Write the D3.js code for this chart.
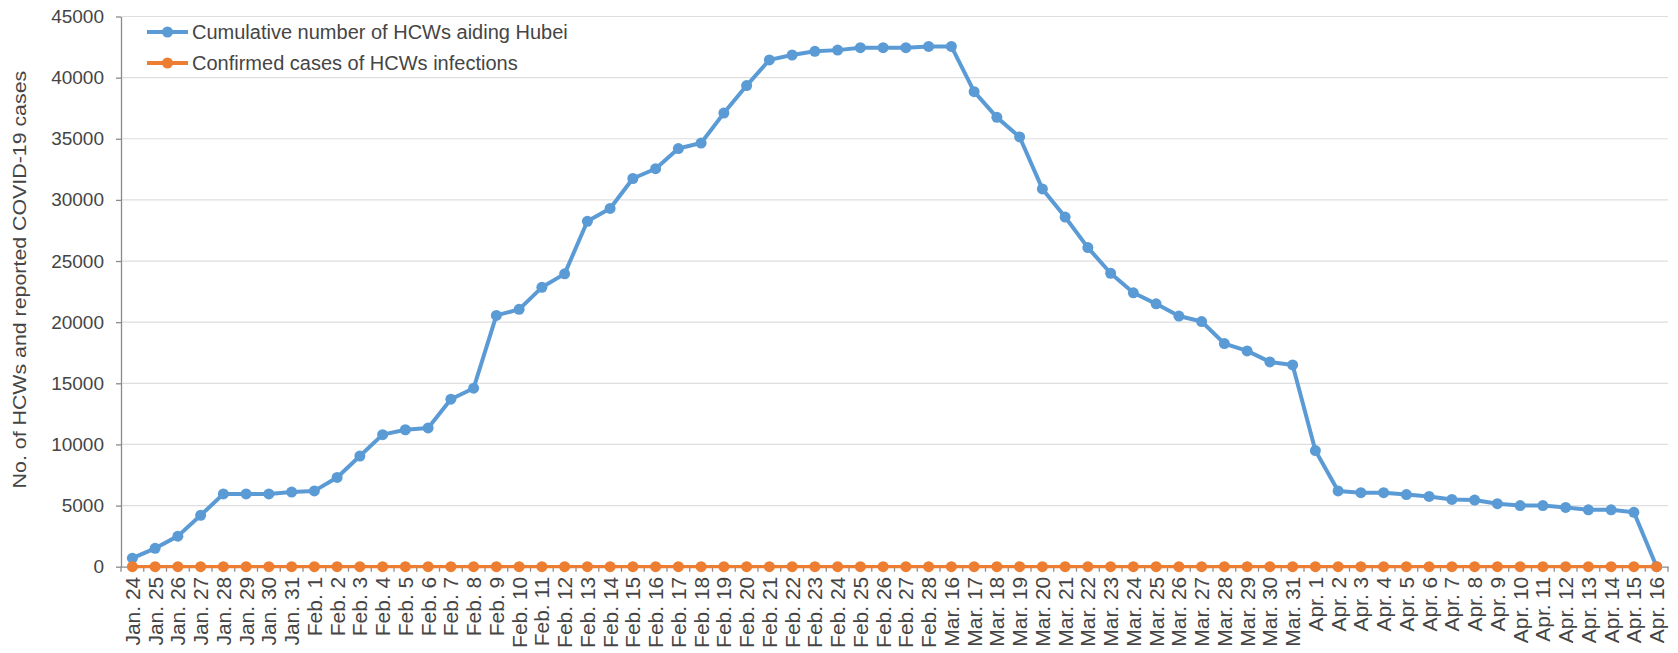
<!DOCTYPE html>
<html>
<head>
<meta charset="utf-8">
<script src="https://cdn.jsdelivr.net/npm/d3@7"></script>
<style>
  html, body { margin: 0; padding: 0; background: #fff; }
  svg { display: block; }
</style>
</head>
<body>
<div id="chart"></div>
<script>
// dates on the x axis (note the gap between Feb. 28 and Mar. 16)
const dates = [
  "Jan. 24","Jan. 25","Jan. 26","Jan. 27","Jan. 28","Jan. 29","Jan. 30","Jan. 31",
  "Feb. 1","Feb. 2","Feb. 3","Feb. 4","Feb. 5","Feb. 6","Feb. 7","Feb. 8","Feb. 9","Feb. 10",
  "Feb. 11","Feb. 12","Feb. 13","Feb. 14","Feb. 15","Feb. 16","Feb. 17","Feb. 18","Feb. 19","Feb. 20",
  "Feb. 21","Feb. 22","Feb. 23","Feb. 24","Feb. 25","Feb. 26","Feb. 27","Feb. 28",
  "Mar. 16","Mar. 17","Mar. 18","Mar. 19","Mar. 20","Mar. 21","Mar. 22","Mar. 23","Mar. 24",
  "Mar. 25","Mar. 26","Mar. 27","Mar. 28","Mar. 29","Mar. 30","Mar. 31",
  "Apr. 1","Apr. 2","Apr. 3","Apr. 4","Apr. 5","Apr. 6","Apr. 7","Apr. 8","Apr. 9","Apr. 10",
  "Apr. 11","Apr. 12","Apr. 13","Apr. 14","Apr. 15","Apr. 16"
];

// cumulative number of HCWs aiding Hubei
const hcwsAiding = [
  700, 1500, 2500, 4200, 5950, 5950, 5950, 6100,
  6200, 7300, 9050, 10800, 11200, 11350, 13700, 14600, 20550, 21050,
  22850, 23950, 28250, 29300, 31750, 32550, 34200, 34650, 37100, 39350,
  41450, 41850, 42150, 42250, 42450, 42450, 42450, 42550,
  42550, 38850, 36750, 35150, 30900, 28600, 26100, 24000, 22400,
  21500, 20500, 20050, 18250, 17650, 16750, 16500,
  9500, 6200, 6050, 6050, 5900, 5750, 5500, 5450, 5150, 5000,
  5000, 4850, 4650, 4650, 4450, 0
];

// confirmed cases of HCWs infections
const hcwsInfected = [
  0, 0, 0, 0, 0, 0, 0, 0,
  0, 0, 0, 0, 0, 0, 0, 0, 0, 0,
  0, 0, 0, 0, 0, 0, 0, 0, 0, 0,
  0, 0, 0, 0, 0, 0, 0, 0,
  0, 0, 0, 0, 0, 0, 0, 0, 0,
  0, 0, 0, 0, 0, 0, 0,
  0, 0, 0, 0, 0, 0, 0, 0, 0, 0,
  0, 0, 0, 0, 0, 0
];

const seriesNames = ["Cumulative number of HCWs aiding Hubei", "Confirmed cases of HCWs infections"];
const yTicks = [0, 5000, 10000, 15000, 20000, 25000, 30000, 35000, 40000, 45000];

const width = 1678, height = 653;
const plotLeft = 121, plotRight = 1668, plotTop = 16.5, plotBottom = 566.7;
const textColor = "#454545";
const font = "Arial, 'Liberation Sans', sans-serif";
const blue = "#5b9bd5", orange = "#ed7d31";

const svg = d3.select("#chart").append("svg")
    .attr("width", width)
    .attr("height", height)
    .attr("viewBox", [0, 0, width, height])
    .attr("font-family", font);

const x = d3.scaleBand().domain(dates).range([plotLeft, plotRight]).padding(0);
const y = d3.scaleLinear().domain([0, 45000]).range([plotBottom, plotTop]);
const cx = d => x(d) + x.bandwidth() / 2;

// gridlines
svg.append("g")
  .selectAll("line")
  .data(yTicks.filter(d => d > 0))
  .join("line")
    .attr("x1", plotLeft).attr("x2", plotRight)
    .attr("y1", d => y(d)).attr("y2", d => y(d))
    .attr("stroke", "#dedede")
    .attr("stroke-width", 1.2);

// y axis
svg.append("g")
    .attr("transform", `translate(${plotLeft},0)`)
    .call(d3.axisLeft(y).tickValues(yTicks).tickFormat(d3.format("d"))
      .tickSize(5).tickPadding(12).tickSizeOuter(0))
    .call(g => g.select(".domain").attr("stroke", "#8a8a8a").attr("stroke-width", 1.3))
    .call(g => g.selectAll(".tick line").attr("stroke", "#8a8a8a").attr("stroke-width", 1.3))
    .call(g => g.selectAll("text")
      .attr("fill", textColor)
      .attr("font-size", 19)
      .attr("font-family", font));

// x axis: labels at band centres, ticks at band boundaries
const xAxis = svg.append("g")
    .attr("transform", `translate(0,${plotBottom})`)
    .call(d3.axisBottom(x).tickSize(0).tickSizeOuter(0))
    .call(g => g.select(".domain").attr("stroke", "#8a8a8a").attr("stroke-width", 1.3))
    .call(g => g.selectAll("text")
      .attr("fill", textColor)
      .attr("font-size", 21)
      .attr("font-family", font)
      .attr("y", 0)
      .attr("x", -10)
      .attr("dy", "0.36em")
      .attr("transform", "rotate(-90)")
      .attr("text-anchor", "end"));

xAxis.append("g")
  .selectAll("line")
  .data(dates.map(d => x(d)).concat([plotRight]))
  .join("line")
    .attr("x1", d => d).attr("x2", d => d)
    .attr("y1", 0).attr("y2", 5)
    .attr("stroke", "#8a8a8a")
    .attr("stroke-width", 1.3);

// y axis title (slim and long, as in the source figure)
svg.append("text")
    .attr("transform", `translate(26,${(plotTop + plotBottom) / 2 - 12}) rotate(-90) scale(1.22,1)`)
    .attr("text-anchor", "middle")
    .attr("fill", textColor)
    .attr("font-size", 17.5)
    .text("No. of HCWs and reported COVID-19 cases");

// series
const series = [
  { name: seriesNames[0], values: hcwsAiding, color: blue, lw: 4, r: 5.5 },
  { name: seriesNames[1], values: hcwsInfected, color: orange, lw: 3.2, r: 5.5 }
];

const line = d3.line()
    .x((v, i) => cx(dates[i]))
    .y(v => y(v));

const sg = svg.append("g")
  .selectAll("g")
  .data(series)
  .join("g");

sg.append("path")
    .attr("fill", "none")
    .attr("stroke", s => s.color)
    .attr("stroke-width", s => s.lw)
    .attr("stroke-linejoin", "round")
    .attr("d", s => line(s.values));

sg.selectAll("circle")
  .data(s => s.values.map(v => ({ v, s })))
  .join("circle")
    .attr("cx", (d, i) => cx(dates[i]))
    .attr("cy", d => y(d.v))
    .attr("r", d => d.s.r)
    .attr("fill", d => d.s.color);

// legend
const legend = svg.append("g")
  .selectAll("g")
  .data(series)
  .join("g")
    .attr("transform", (d, i) => `translate(147,${32 + i * 31})`);

legend.append("line")
    .attr("x1", 0).attr("x2", 41)
    .attr("stroke", d => d.color)
    .attr("stroke-width", 4);

legend.append("circle")
    .attr("cx", 20.5)
    .attr("r", 5.5)
    .attr("fill", d => d.color);

legend.append("text")
    .attr("x", 45)
    .attr("dy", "0.35em")
    .attr("fill", textColor)
    .attr("font-size", 20)
    .text(d => d.name);
</script>
</body>
</html>
